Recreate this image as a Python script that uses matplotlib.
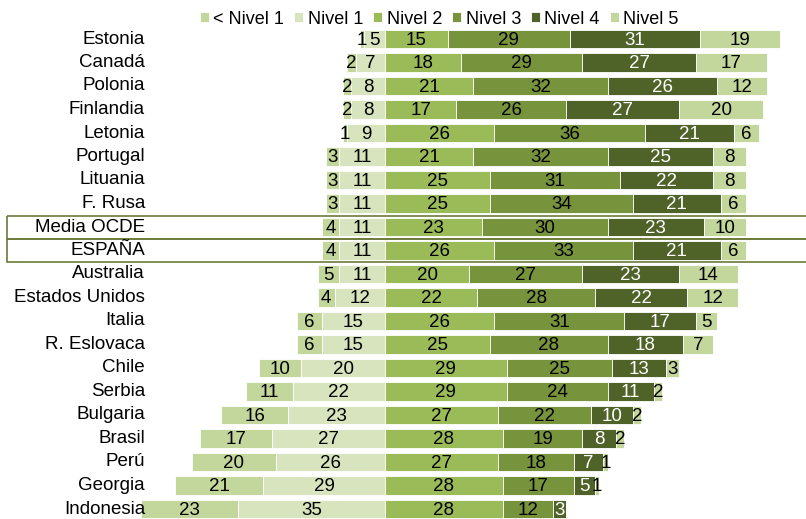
import numpy as np
import matplotlib.pyplot as plt
from matplotlib.patches import Rectangle

plt.rcParams['font.family'] = ['Liberation Sans', 'DejaVu Sans']

# ------------------------------
# Datos (%) por nivel de rendimiento
# ------------------------------
paises = ["Estonia", "Canadá", "Polonia", "Finlandia", "Letonia", "Portugal",
          "Lituania", "F. Rusa", "Media OCDE", "ESPAÑA", "Australia",
          "Estados Unidos", "Italia", "R. Eslovaca", "Chile", "Serbia",
          "Bulgaria", "Brasil", "Perú", "Georgia", "Indonesia"]

bajo_n1 = [1, 2, 2, 2, 1, 3, 3, 3, 4, 4, 5, 4, 6, 6, 10, 11, 16, 17, 20, 21, 23]
nivel1 = [5, 7, 8, 8, 9, 11, 11, 11, 11, 11, 11, 12, 15, 15, 20, 22, 23, 27, 26, 29, 35]
nivel2 = [15, 18, 21, 17, 26, 21, 25, 25, 23, 26, 20, 22, 26, 25, 29, 29, 27, 28, 27, 28, 28]
nivel3 = [29, 29, 32, 26, 36, 32, 31, 34, 30, 33, 27, 28, 31, 28, 25, 24, 22, 19, 18, 17, 12]
nivel4 = [31, 27, 26, 27, 21, 25, 22, 21, 23, 21, 23, 22, 17, 18, 13, 11, 10, 8, 7, 5, 3]
nivel5 = [19, 17, 12, 20, 6, 8, 8, 6, 10, 6, 14, 12, 5, 7, 3, 2, 2, 2, 1, 1, 0]

nombres = ["< Nivel 1", "Nivel 1", "Nivel 2", "Nivel 3", "Nivel 4", "Nivel 5"]
colores = ["#c3d69b", "#d7e4bd", "#9bbb59", "#77933c", "#4f6228", "#c3d69b"]
color_txt = ["black", "black", "black", "black", "white", "black"]

y = np.arange(len(paises))
alto = 0.77
fs = 13.5

fig = plt.figure(figsize=(8.06, 5.19), dpi=100)
ax = fig.add_axes([0, 0, 1, 1])

# parte negativa: Nivel 1 pegado al cero, < Nivel 1 a la izquierda
n1 = np.array(nivel1)
b1 = np.array(bajo_n1)
segs = [(-(n1 + b1), b1), (-n1, n1)]
izq = np.zeros(len(paises))
for v in [nivel2, nivel3, nivel4, nivel5]:
    v = np.array(v)
    segs.append((izq.copy(), v))
    izq = izq + v

handles = []
for k, (start, ancho) in enumerate(segs):
    h = ax.barh(y, ancho, left=start, height=alto, color=colores[k],
                edgecolor="white", linewidth=0.6, label=nombres[k])
    handles.append(h)
    for i in range(len(paises)):
        if ancho[i] > 0:
            ax.text(start[i] + ancho[i] / 2, y[i] + 0.05, str(ancho[i]),
                    ha="center", va="center", fontsize=fs, color=color_txt[k])

# nombres de paises
for i, p in enumerate(paises):
    ax.text(145 / 806, y[i], p, transform=ax.get_yaxis_transform(),
            ha="right", va="center", fontsize=fs)

# recuadros Media OCDE y ESPAÑA
for i in [8, 9]:
    ax.add_patch(Rectangle((7 / 806, y[i] - 0.47), 1.0, 0.96,
                           transform=ax.get_yaxis_transform(), fill=False,
                           edgecolor="#6b7a3a", linewidth=1.2, clip_on=False))

ax.set_xlim(-385 / 4.2, 421 / 4.2)
ax.set_ylim(20 + 10 / 23.5, -39 / 23.5)
ax.axis("off")

fig.legend(handles=handles, loc="center", bbox_to_anchor=(0.545, 0.963), ncol=6,
           frameon=False, fontsize=13, handlelength=0.5, handleheight=0.5,
           handletextpad=0.25, columnspacing=0.55, borderpad=0)

plt.savefig("out.png", dpi=100)
